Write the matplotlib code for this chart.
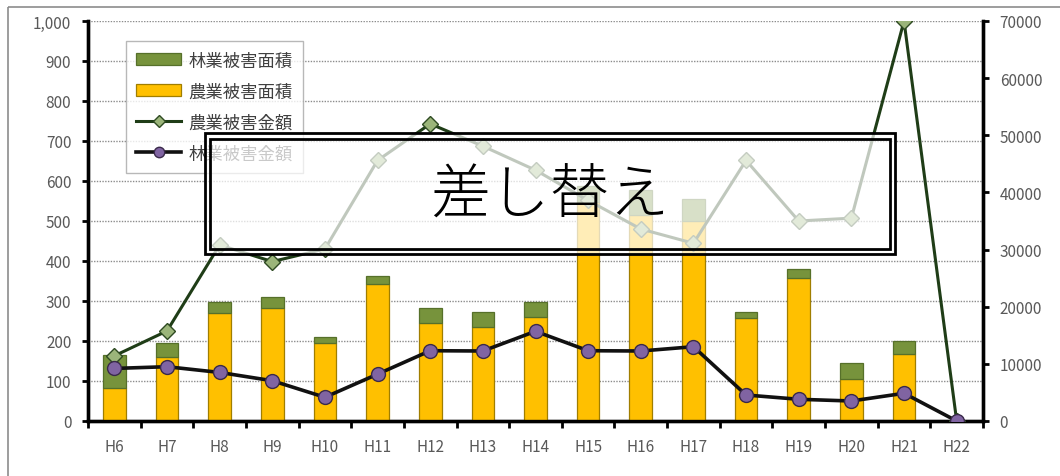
import matplotlib
matplotlib.use("Agg")
import matplotlib.pyplot as plt
from matplotlib.patches import Rectangle
from matplotlib.ticker import FuncFormatter
import numpy as np

plt.rcParams['font.family'] = ['Noto Sans CJK JP', 'DejaVu Sans']

# data
years = ["H6", "H7", "H8", "H9", "H10", "H11", "H12", "H13", "H14",
         "H15", "H16", "H17", "H18", "H19", "H20", "H21", "H22"]
agri_area = [83, 160, 271, 282, 194, 342, 245, 234, 259,
             548, 514, 501, 257, 357, 105, 167, 0]
forest_area = [82, 36, 27, 27, 16, 21, 37, 38, 38,
               40, 63, 53, 16, 23, 39, 33, 0]
agri_money = [11400, 15750, 30800, 27900, 30100, 45600, 52000, 48100, 43900,
              38600, 33600, 31100, 45600, 35000, 35500, 70000, 0]
forest_money = [9200, 9500, 8500, 7050, 4150, 8200, 12300, 12250, 15700,
                12300, 12250, 13000, 4550, 3800, 3500, 4850, 0]

W, H = 1060, 477
fig = plt.figure(figsize=(W / 100, H / 100), dpi=100)
fig.patch.set_facecolor("white")

ax = fig.add_axes([88 / W, 1 - 422 / H, (983 - 88) / W, 400 / H])
ax2 = ax.twinx()

x = np.arange(len(years))
ax.bar(x, agri_area, width=0.43, color="#FFC000", edgecolor="#A07E00",
       linewidth=0.9, zorder=3, label="農業被害面積")
ax.bar(x, forest_area, width=0.43, bottom=agri_area, color="#77933C",
       edgecolor="#56702A", linewidth=0.9, zorder=3, label="林業被害面積")

ax.set_xlim(-0.5, len(years) - 0.5)
ax.set_ylim(0, 1000)
ax.set_yticks(np.arange(0, 1001, 100))
ax.yaxis.set_major_formatter(FuncFormatter(lambda v, p: f"{int(v):,}"))
ax.grid(axis="y", color="#8c8c8c", linestyle=(0, (1, 1)), linewidth=1.0, zorder=0)
ax.set_axisbelow(True)

ax.set_xticks(x)
ax.set_xticklabels(years)
ax.set_xticks(np.arange(-0.5, len(years), 1), minor=True)
ax.tick_params(axis="x", which="major", length=0, pad=12, labelsize=11, labelcolor="#595959")
ax.tick_params(axis="x", which="minor", length=5, width=2, direction="out", color="black")
ax.tick_params(axis="y", length=4, width=2, direction="out", labelsize=11,
               labelcolor="#595959", pad=8)

ax2.plot(x, agri_money, color="#1F3D17", linewidth=2.2, marker="D", markersize=8,
         markerfacecolor="#9BB57A", markeredgecolor="#2E4A22", zorder=4,
         label="農業被害金額")
ax2.plot(x, forest_money, color="#111111", linewidth=2.6, marker="o", markersize=10,
         markerfacecolor="#8064A2", markeredgecolor="#3A2A4A", zorder=5,
         label="林業被害金額")
ax2.set_ylim(0, 70000)
ax2.set_yticks(np.arange(0, 70001, 10000))
ax2.tick_params(axis="y", length=4, width=2, direction="out", labelsize=11,
                labelcolor="#595959", pad=8)

for a in (ax, ax2):
    a.spines["top"].set_visible(False)
    a.spines["left"].set_linewidth(2.4)
    a.spines["bottom"].set_linewidth(2.4)
    a.spines["right"].set_linewidth(2.4)

h1, l1 = ax.get_legend_handles_labels()
h2, l2 = ax2.get_legend_handles_labels()
handles = [h1[1], h1[0], h2[0], h2[1]]
labels = [l1[1], l1[0], l2[0], l2[1]]
leg = ax2.legend(handles, labels, loc="upper left", bbox_to_anchor=(0.042, 0.95),
                 borderaxespad=0, frameon=True, fancybox=False, fontsize=12.5,
                 labelspacing=0.75, borderpad=0.6, handlelength=2.6, handletextpad=0.4,
                 markerscale=0.75, edgecolor="#a6a6a6")
leg.get_frame().set_linewidth(1.0)
for t in leg.get_texts():
    t.set_color("#404040")
leg.set_zorder(10)

# overlay layer in pixel coords: outer frame + "差し替え" stamp
ov = fig.add_axes([0, 0, 1, 1])
ov.set_xlim(0, W)
ov.set_ylim(H, 0)
ov.axis("off")
ov.add_patch(Rectangle((8, 8), W + 20, H + 20, fill=False, edgecolor="#8c8c8c", linewidth=1.2))
ov.add_patch(Rectangle((205, 134), 690, 121, facecolor="white", alpha=0.72, edgecolor="none"))
ov.add_patch(Rectangle((205, 134), 690, 121, fill=False, edgecolor="black", linewidth=2.0))
ov.add_patch(Rectangle((210, 140), 680, 110, fill=False, edgecolor="black", linewidth=2.0))
ov.text(550, 197, "差し替え", ha="center", va="center", fontsize=43,
        fontweight="light", color="black")

fig.savefig("out.png", dpi=100)
